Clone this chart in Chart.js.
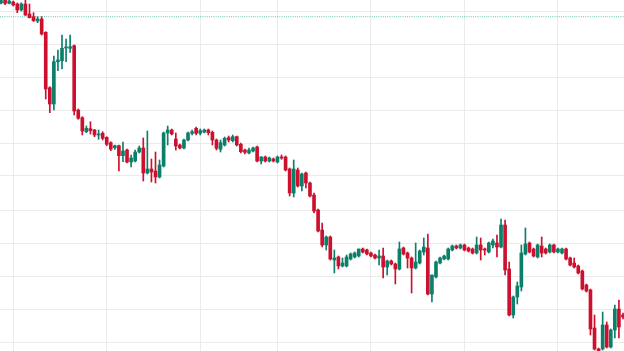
<!DOCTYPE html>
<html>
<head>
<meta charset="utf-8">
<script src="https://cdn.jsdelivr.net/npm/chart.js"></script>
<style>
  html, body { margin: 0; padding: 0; background: #ffffff; }
  canvas { display: block; }
</style>
</head>
<body>
<canvas id="c" width="624" height="351"></canvas>
<script>
// ---- data ----
const opens = [497,500,496.7,498,496,490,496,486,483.3,479,
  481,467.7,412.3,396,438.3,439.3,452,451.7,454.3,390,
  382.3,368.3,371.3,370,365,366.7,362.7,357.3,352.3,354.3,
  344.3,350,338,339,348,352,327,331,329,323,
  334,367,370,361,355,352,360,366.7,371.7,366.7,
  368,370,367.7,360,350.7,355,362.3,359.3,363.3,355.7,
  350,347,349,353,339,343,339,341,338,343,
  343,331,307,330,314,327,317,305,290,270,
  255,263,240,243,234,234,241,243,244,251,
  250,247,245,242,244,233,239,236,231,252,
  247,242,232,237,248,252,206,223,237,241,
  241,250,254,252,255,252,251,247,255,251,
  248,255,257,253,275,231,185,203,213,246,
  257,251,243,254,251,248,255,248,247,251,
  242,237,234,229,215,210,172,151,151,175,
  153,170,191,185];
const closes = [499.5,496.7,499,495,490,496,485,482.3,479.3,481,
  466,411,396,438.3,440,451.7,452.5,453.3,389,381.7,
  369,371.7,369.3,365,366,361.7,355.7,351,354.3,344.3,
  349,338,342,348,352,327,331,328,323,335,
  367,370,366,354,352,360,367,368.3,366.7,369.3,
  370,367.3,360,351.7,357.3,361.7,360,363.3,355,348.3,
  347.7,350,352,339,343,339,342,339,343,342,
  330,307,331,314,326,317,304,289,269,255,
  263,241,242,234,237,243,246,247,251,248,
  246,244,242,244,233,239,236,231,251,246,
  242,232,238,249,253,206,225,238,242,244,
  251,254,252,255,250,249,247,255,250,250,
  257,259,253,275,230,185,203,214,247,256,
  248,244,255,247,247,255,248,251,251,241,
  235,233,227,211,209,171,151,148,175,153,
  170,191,173,183];
const highs = [502,501,500,499,497,497.3,500,496,487.3,483.3,
  483.3,468.3,413.3,444,450,465,461,465,455,391,
  383.3,374,378.3,370.7,370,368.3,363.3,358.3,355,355,
  358,351,345,350,354,362,369,341,348,340,
  368,374,371,367,356,361,368,370,373,371,
  371,371,369,361,360,363,364,365,364,357,
  351,352,353,354,343.3,344,343,342,344,345,
  344,332,340,332,327,328,318,307,291,277,
  264,264,250,244,242,245,247,248,251,252,
  251,248,246,250,252,240,240,237,258,253,
  248,243,257,250,262,266,225,239,243,245,
  252,255,255,256,256,253,252,263,262,252,
  258,261,265,281,280,238,204,218,255,272,
  258,252,256,263,252,256,256,252,252,252,
  243,242,235,230,216,211,185,152,188,178,
  171,195,200,187];
const lows = [496,495.3,496,494,487.3,489,484.5,482,478.5,477.3,
  465,401,387.3,390,429.3,431,438.3,447.7,385,380.7,
  365,367.3,366,363.3,360.7,360,354.3,349.3,350.7,329,
  338.3,337,333,338,347,319,326,318,317,322,
  333,355,365,350,351,351,359,365,365,365,
  367,365,355,350,348,354,358,358,354,347,
  346,346,348,338,336,338,338,338,337,340.7,
  329,304,303,313,309,312,303,287,268,253,
  250,240,227,231,233,233,240,242,243,247,
  245,243,241,235,222,225,235,216,230,245,
  232,207,231,236,245,205,198,222,236,240,
  240,249,251,251,249,248,246,246,240,245,
  247,252,243,252,225,184,182,196,209,245,
  247,243,242,243,246,247,247,247,246,240,
  234,232,226,210,208,165,150,147,150,152,
  152,162,162,181];
// horizontal grid price levels and vertical grid (period start) candle indices
const priceGridLevels = [158,191,224,257,290,324,357,390,423,456,489];
const periodStartIdx = [3,26,49,68,91,114,137];
const referencePrice = 483.3;

// ---- styling ----
const UP = '#0b7f69';
const DOWN = '#cc102e';
const GRID = '#ebebeb';
const colorOf = i => (closes[i] >= opens[i] ? UP : DOWN);
const n = opens.length;

const bodies = opens.map((o, i) => ({ x: i, y: [o, closes[i]] }));
const wicks = lows.map((l, i) => ({ x: i, y: [l, highs[i]] }));

new Chart(document.getElementById('c'), {
  type: 'bar',
  data: {
    datasets: [
      {
        data: bodies,
        grouped: false,
        barThickness: 3,
        minBarLength: 1,
        borderWidth: 0,
        backgroundColor: ctx => colorOf(ctx.dataIndex)
      },
      {
        data: wicks,
        grouped: false,
        barThickness: 1,
        borderWidth: 0,
        backgroundColor: ctx => colorOf(ctx.dataIndex)
      },
      {
        type: 'line',
        data: [{ x: -0.25, y: referencePrice }, { x: n - 0.75, y: referencePrice }],
        borderColor: 'rgba(8,153,129,0.6)',
        borderWidth: 1,
        borderDash: [1, 1.2],
        pointRadius: 0,
        fill: false
      }
    ]
  },
  options: {
    responsive: false,
    animation: false,
    layout: { padding: 0 },
    plugins: { legend: { display: false }, tooltip: { enabled: false } },
    scales: {
      x: {
        type: 'linear',
        min: -0.25,
        max: n - 0.75,
        offset: false,
        grid: { color: GRID, drawTicks: false, offset: false },
        border: { display: false },
        ticks: { display: false },
        afterBuildTicks: s => { s.ticks = periodStartIdx.map(v => ({ value: v })); }
      },
      y: {
        type: 'linear',
        min: 149,
        max: 500,
        grid: { color: GRID, drawTicks: false },
        border: { display: false },
        ticks: { display: false },
        afterBuildTicks: s => { s.ticks = priceGridLevels.map(v => ({ value: v })); }
      }
    }
  }
});
</script>
</body>
</html>
